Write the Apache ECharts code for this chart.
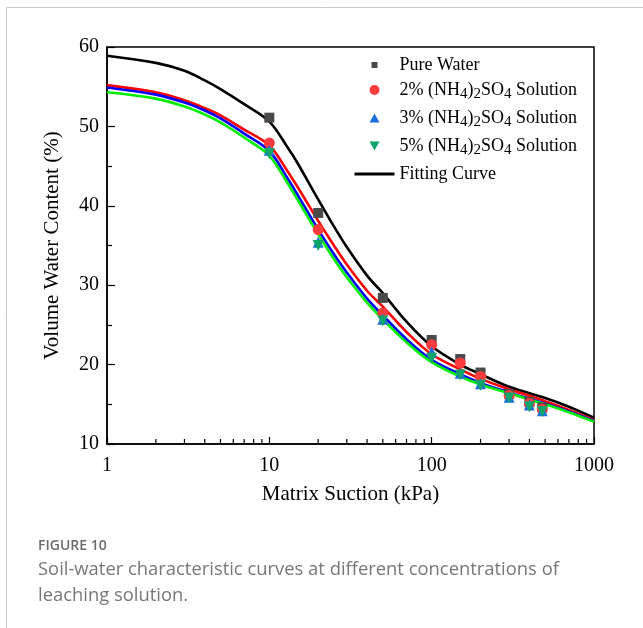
<!DOCTYPE html>
<html><head><meta charset="utf-8">
<script src="https://cdn.jsdelivr.net/npm/echarts@6/dist/echarts.min.js"></script>
<style>html,body{margin:0;padding:0;background:#fff}#c{width:643px;height:628px}</style>
</head><body><div id="c"></div>
<script>
// measured data
const suction = [10, 20, 50, 100, 150, 200, 300, 400, 480];
const pureWater = [51.1, 39.1, 28.4, 23.1, 20.7, 19.0, 16.3, 15.3, 14.6];
const sol2 = [47.9, 37.0, 26.5, 22.5, 20.2, 18.5, 16.1, 15.1, 14.4];
const sol3 = [47.0, 35.4, 25.7, 21.6, 18.9, 17.6, 15.9, 14.9, 14.2];
const sol5 = [46.6, 35.0, 25.5, 20.8, 18.7, 17.4, 15.8, 14.7, 14.1];

const fitX = [1, 2, 3, 4, 5, 7, 10, 13, 15, 20, 25, 30, 40, 50, 70, 100, 150, 200, 300, 500, 700, 1000];
const fitPure = [58.9, 58.0, 57.0, 55.8, 54.7, 52.8, 50.6, 47.3, 45.3, 40.8, 37.4, 34.8, 31.2, 29.0, 25.4, 22.3, 20.0, 18.8, 17.2, 15.8, 14.7, 13.3];
const fit2 = [55.2, 54.3, 53.3, 52.3, 51.4, 49.6, 47.6, 44.3, 42.3, 38.1, 35.0, 32.6, 29.3, 27.3, 24.1, 21.3, 19.4, 18.2, 16.9, 15.4, 14.3, 13.0];
const fit3 = [54.9, 54.0, 53.0, 52.0, 51.0, 49.1, 46.9, 43.4, 41.3, 37.0, 33.9, 31.6, 28.3, 26.2, 23.2, 20.6, 18.8, 17.7, 16.5, 15.1, 14.1, 12.9];
const fit5 = [54.3, 53.5, 52.5, 51.5, 50.5, 48.6, 46.3, 42.8, 40.7, 36.4, 33.3, 31.0, 27.8, 25.7, 22.8, 20.3, 18.5, 17.5, 16.4, 15.0, 14.0, 12.8];

const minorTickValues = [2,3,4,5,6,7,8,9,20,30,40,50,60,70,80,90,200,300,400,500,600,700,800,900];
const xTickLabels = ['1', '10', '100', '1000'];
const yTicks = [10, 20, 30, 40, 50, 60];

const names = ['Pure Water', '2% (NH4)2SO4 Solution', '3% (NH4)2SO4 Solution', '5% (NH4)2SO4 Solution', 'Fitting Curve'];

function pairs(xs, ys) { return xs.map((x, i) => [x, ys[i]]); }

const serif = '"Liberation Serif","Times New Roman",serif';
const chart = echarts.init(document.getElementById('c'), null, { renderer: 'canvas' });

function fitLine(name, color, ys) {
  return { name: name, type: 'line', data: pairs(fitX, ys), smooth: 0.35, symbol: 'none',
    lineStyle: { color: color, width: 2.6 }, itemStyle: { color: color }, z: 2 };
}
function scat(name, symbol, color, ys, size, rotate) {
  return { name: name, type: 'scatter', data: pairs(suction, ys), symbol: symbol, symbolSize: size,
    symbolRotate: rotate || 0, itemStyle: { color: color, opacity: 1 }, z: 5 };
}

// legend icons: 40x10 box (corner moves fix the box), small mark centred
const iconSquare = 'path://M0,0M40,10M17,2H23V8H17Z';
const iconCircle = 'path://M0,0M40,10M15,5A5,5,0,1,1,25,5A5,5,0,1,1,15,5Z';
const iconTriUp = 'path://M0,0M40,10M20,0.5L25,9.5H15Z';
const iconTriDown = 'path://M0,0M40,10M15,0.5H25L20,9.5Z';

chart.setOption({
  animation: false,
  backgroundColor: '#fff',
  grid: { left: 107, top: 47, right: 49, bottom: 184, show: true, borderColor: '#000', borderWidth: 1.5, backgroundColor: 'transparent' },
  xAxis: {
    type: 'log', logBase: 10, min: 1, max: 1000,
    name: 'Matrix Suction (kPa)', nameLocation: 'middle', nameGap: 40,
    nameTextStyle: { fontFamily: serif, fontSize: 21, color: '#000' },
    axisLine: { show: true, lineStyle: { color: '#000', width: 1.5 } },
    axisTick: { show: true, inside: true, length: 7, lineStyle: { color: '#000', width: 1.2 } },
    axisLabel: { fontFamily: serif, fontSize: 20, color: '#000', margin: 12,
      formatter: function (v) { const i = Math.round(Math.log10(v)); return xTickLabels[i] || ''; } },
    splitLine: { show: false }
  },
  yAxis: {
    type: 'value', min: yTicks[0], max: yTicks[yTicks.length - 1], interval: 10,
    name: 'Volume Water Content (%)', nameLocation: 'middle', nameGap: 44,
    nameTextStyle: { fontFamily: serif, fontSize: 21, color: '#000' },
    axisLine: { show: true, lineStyle: { color: '#000', width: 1.5 } },
    axisTick: { show: true, inside: true, length: 8, lineStyle: { color: '#000', width: 1.2 } },
    minorTick: { show: true, splitNumber: 2, length: 5, lineStyle: { color: '#000', width: 1.2 } },
    axisLabel: { fontFamily: serif, fontSize: 20, color: '#000', margin: 8 },
    splitLine: { show: false }
  },
  legend: {
    data: [
      { name: names[0], icon: iconSquare },
      { name: names[1], icon: iconCircle },
      { name: names[2], icon: iconTriUp },
      { name: names[3], icon: iconTriDown },
      { name: names[4], itemStyle: { opacity: 0 }, lineStyle: { width: 3 } }
    ],
    orient: 'vertical', left: 348, top: 51, itemWidth: 40, itemHeight: 10, itemGap: 7,
    textStyle: { fontFamily: serif, fontSize: 18, color: '#000',
      rich: { s: { fontFamily: serif, fontSize: 15, padding: [9, 0, 0, 0] } } },
    formatter: function (n) { return n.replace('(NH4)2SO4', '(NH{s|4}){s|2}SO{s|4}'); }
  },
  series: [
    fitLine('Fitting Curve', '#000000', fitPure),
    fitLine('fit2', '#ff0000', fit2),
    fitLine('fit3', '#0000ff', fit3),
    fitLine('fit5', '#00ee00', fit5),
    scat(names[0], 'rect', '#4a4a4a', pureWater, 10),
    scat(names[1], 'circle', '#ff3b3b', sol2, 11),
    scat(names[2], 'triangle', '#1a6fdc', sol3, 11),
    scat(names[3], 'triangle', '#0ea56a', sol5, 11, 180),
    {
      name: 'minorTicks', type: 'custom', data: minorTickValues.map(v => [v, yTicks[0]]), clip: false, z: 6,
      renderItem: function (params, api) {
        const p = api.coord([api.value(0), api.value(1)]);
        return { type: 'line', shape: { x1: p[0], y1: p[1], x2: p[0], y2: p[1] - 5 }, style: { stroke: '#000', lineWidth: 1.2 } };
      }
    }
  ],
  graphic: [
    { type: 'line', shape: { x1: 6.5, y1: 7.5, x2: 643, y2: 7.5 }, style: { stroke: '#cccccc', lineWidth: 1 } },
    { type: 'line', shape: { x1: 6.5, y1: 7.5, x2: 6.5, y2: 628 }, style: { stroke: '#cccccc', lineWidth: 1 } },
    { type: 'text', left: 38, top: 539, style: { text: 'FIGURE 10', font: '600 14px "Open Sans", sans-serif', fill: '#6b6b6b' } },
    { type: 'text', left: 38, top: 561, style: { text: 'Soil-water characteristic curves at different concentrations of', font: '18.4px "Open Sans", sans-serif', fill: '#777777' } },
    { type: 'text', left: 38, top: 587, style: { text: 'leaching solution.', font: '18.4px "Open Sans", sans-serif', fill: '#777777' } }
  ]
});
</script>
</body></html>
